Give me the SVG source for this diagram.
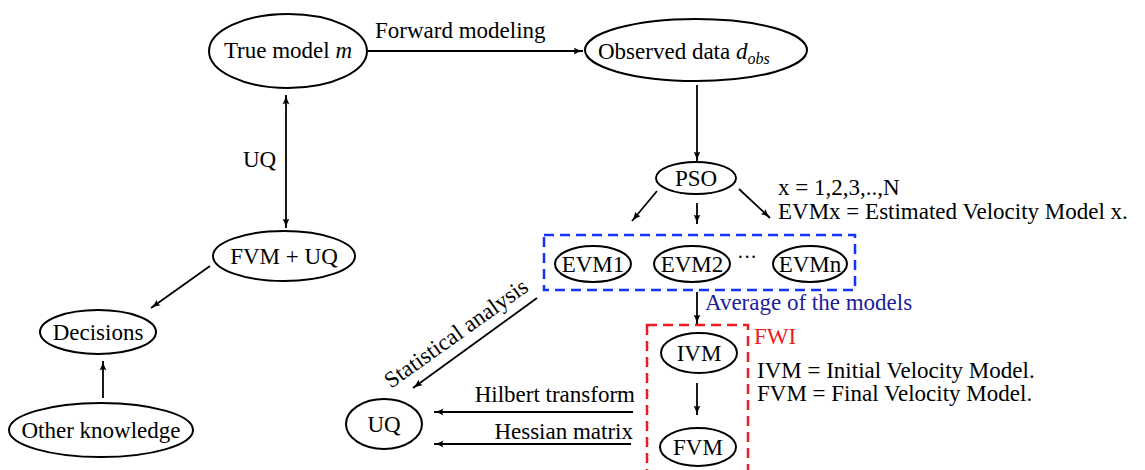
<svg xmlns="http://www.w3.org/2000/svg" width="1145" height="470" viewBox="0 0 1145 470">
<defs>
<marker id="ah" viewBox="0 0 10 8" refX="9.5" refY="4" markerWidth="10" markerHeight="8" markerUnits="userSpaceOnUse" orient="auto-start-reverse">
<path d="M0,0.5 Q4,3 10,4 Q4,5 0,7.5 Q2.5,4 0,0.5 z" fill="#000"/>
</marker>
</defs>
<style>
text{font-family:"Liberation Serif","Times New Roman",serif;font-size:23px;fill:#000}
.n ellipse{fill:#fff;stroke:#000;stroke-width:2}
.c line{stroke:#000;stroke-width:1.8;marker-end:url(#ah)}
.mid{text-anchor:middle}
.end{text-anchor:end}
</style>
<rect width="1145" height="470" fill="#fff"/>

<g id="box-evm">
<rect x="544" y="235" width="311" height="55" fill="none" stroke="#1530ff" stroke-width="2.5" stroke-dasharray="10 6"/>
</g>
<g id="box-fwi">
<rect x="647" y="325" width="101" height="160" fill="none" stroke="#ee1c25" stroke-width="2.5" stroke-dasharray="10 6"/>
<text x="754" y="344" style="fill:#ee1c25">FWI</text>
</g>

<g class="c" id="connectors">
<line x1="368" y1="51" x2="583" y2="51"/>
<line x1="697" y1="85" x2="697" y2="161"/>
<line x1="657" y1="191" x2="632" y2="221"/>
<line x1="697" y1="203" x2="697" y2="224"/>
<line x1="739" y1="189" x2="770" y2="218"/>
<line x1="697" y1="292" x2="697" y2="324"/>
<line x1="697" y1="383" x2="697" y2="415"/>
<line x1="633" y1="412" x2="434" y2="412"/>
<line x1="631" y1="444" x2="434" y2="444"/>
<line x1="537" y1="298" x2="413" y2="388"/>
<line x1="286" y1="160" x2="286" y2="228"/>
<line x1="286" y1="160" x2="286" y2="95"/>
<line x1="210" y1="266" x2="151" y2="308"/>
<line x1="103" y1="398" x2="103" y2="361"/>
</g>

<g id="labels">
<text x="375" y="38">Forward modeling</text>
<text x="243" y="167">UQ</text>
<text x="778" y="195">x = 1,2,3,..,N</text>
<text x="778" y="219">EVMx = Estimated Velocity Model x.</text>
<text x="705" y="310" style="fill:#1c1c9c">Average of the models</text>
<text x="757" y="378">IVM = Initial Velocity Model.</text>
<text x="757" y="401">FVM = Final Velocity Model.</text>
<text x="635" y="402" class="end">Hilbert transform</text>
<text x="633" y="439" class="end">Hessian matrix</text>
<text transform="translate(391,389) rotate(-35.5)">Statistical analysis</text>
<text x="747" y="264" class="mid" style="font-size:20px">···</text>
</g>

<g class="n" id="true-model">
<ellipse cx="288" cy="51" rx="79" ry="37"/>
<text x="288" y="58" class="mid">True model <tspan font-style="italic">m</tspan></text>
</g>
<g class="n" id="observed">
<ellipse cx="696" cy="50" rx="111" ry="31"/>
<text x="598" y="59">Observed data <tspan font-style="italic">d</tspan><tspan font-style="italic" font-size="16" dy="5">obs</tspan></text>
</g>
<g class="n" id="pso">
<ellipse cx="696" cy="178" rx="40" ry="16"/>
<text x="696" y="186" class="mid">PSO</text>
</g>
<g class="n" id="evm1">
<ellipse cx="593" cy="264" rx="38" ry="18"/>
<text x="593" y="272" class="mid">EVM1</text>
</g>
<g class="n" id="evm2">
<ellipse cx="692" cy="264" rx="38" ry="18"/>
<text x="692" y="272" class="mid">EVM2</text>
</g>
<g class="n" id="evmn">
<ellipse cx="810" cy="264" rx="37" ry="18"/>
<text x="810" y="272" class="mid">EVMn</text>
</g>
<g class="n" id="ivm">
<ellipse cx="699" cy="353" rx="38" ry="20"/>
<text x="699" y="361" class="mid">IVM</text>
</g>
<g class="n" id="fvm">
<ellipse cx="698" cy="447" rx="38" ry="19"/>
<text x="698" y="455" class="mid">FVM</text>
</g>
<g class="n" id="uq">
<ellipse cx="384" cy="424" rx="38" ry="25"/>
<text x="384" y="432" class="mid">UQ</text>
</g>
<g class="n" id="fvm-uq">
<ellipse cx="284" cy="256" rx="71" ry="25"/>
<text x="284" y="264" class="mid">FVM + UQ</text>
</g>
<g class="n" id="decisions">
<ellipse cx="98" cy="332" rx="58" ry="22"/>
<text x="98" y="340" class="mid">Decisions</text>
</g>
<g class="n" id="other-knowledge">
<ellipse cx="101" cy="430" rx="92" ry="27"/>
<text x="101" y="438" class="mid">Other knowledge</text>
</g>
</svg>
